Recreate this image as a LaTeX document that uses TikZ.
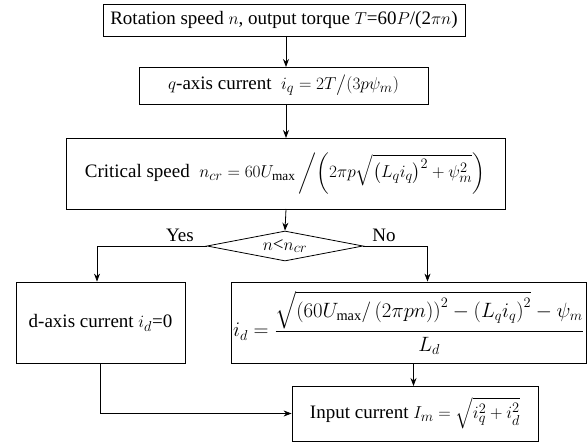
\documentclass[tikz,border=0pt]{standalone}
\usepackage{amsmath}
\usepackage{fontspec}
\setmainfont{Liberation Serif}
\usetikzlibrary{arrows.meta,shapes.geometric}
\begin{document}
\begin{tikzpicture}[x=1pt,y=-1pt,
  box/.style={draw,thick,inner sep=0pt,align=center,font=\fontsize{19}{22}\selectfont},
  dia/.style={draw,thick,diamond,aspect=5.2,inner sep=0pt,font=\fontsize{19}{22}\selectfont},
  lbl/.style={font=\fontsize{19}{22}\selectfont},
  arr/.style={thick,-{Stealth[length=8pt,width=6pt]}}]
\useasboundingbox (0,0) rectangle (588,443);
\node[box,minimum width=362pt,minimum height=32pt] (b1) at (284,20) {Rotation speed $n$, output torque $T$=60$P$/(2$\pi n$)};
\node[box,minimum width=289pt,minimum height=37pt] (b2) at (283.5,85.5) {$q$-axis current \ $i_q = 2T\big/(3p\psi_m)$};
\node[box,minimum width=439pt,minimum height=71pt] (b3) at (285.5,173.5) {Critical speed \ $n_{cr}=60U_{\max}\left/\left(2\pi p\sqrt{\left(L_q i_q\right)^2+\psi_m^2}\right)\right.$};
\node[dia,minimum width=156pt,minimum height=30pt] (d) at (285,246) {$n$<$n_{cr}$};
\node[box,minimum width=169pt,minimum height=81pt] (bd) at (100.5,322.5) {d-axis current $i_d$=0};
\node[box,minimum width=355pt,minimum height=81pt,font=\fontsize{20.5}{24}\selectfont] (bid) at (408.5,322.5) {$i_d=\dfrac{\sqrt{\left(60U_{\max}/\left(2\pi pn\right)\right)^2-\left(L_q i_q\right)^2}-\psi_m}{L_d}$};
\node[box,minimum width=246pt,minimum height=55pt] (bin) at (415,413.5) {Input current $I_m=\sqrt{i_q^2+i_d^2}$};
\node[lbl] (yes) at (180,235) {Yes};
\node[lbl] (no) at (384,235) {No};
\coordinate (lc) at (97,246);
\coordinate (rc) at (427.5,246);
\coordinate (bc) at (100,413.5);
\draw[arr] (286,36) -- (286,67);
\draw[arr] (286,104) -- (286,138);
\draw[arr] (286,209) -- (d.north);
\draw[arr] (d.west) -- (lc) -- (lc |- bd.north);
\draw[arr] (d.east) -- (rc) -- (rc |- bid.north);
\draw[arr] (413.5,363) -- (413.5,386);
\draw[arr] (bc |- bd.south) -- (bc) -- (bin.west);
\end{tikzpicture}
\end{document}
